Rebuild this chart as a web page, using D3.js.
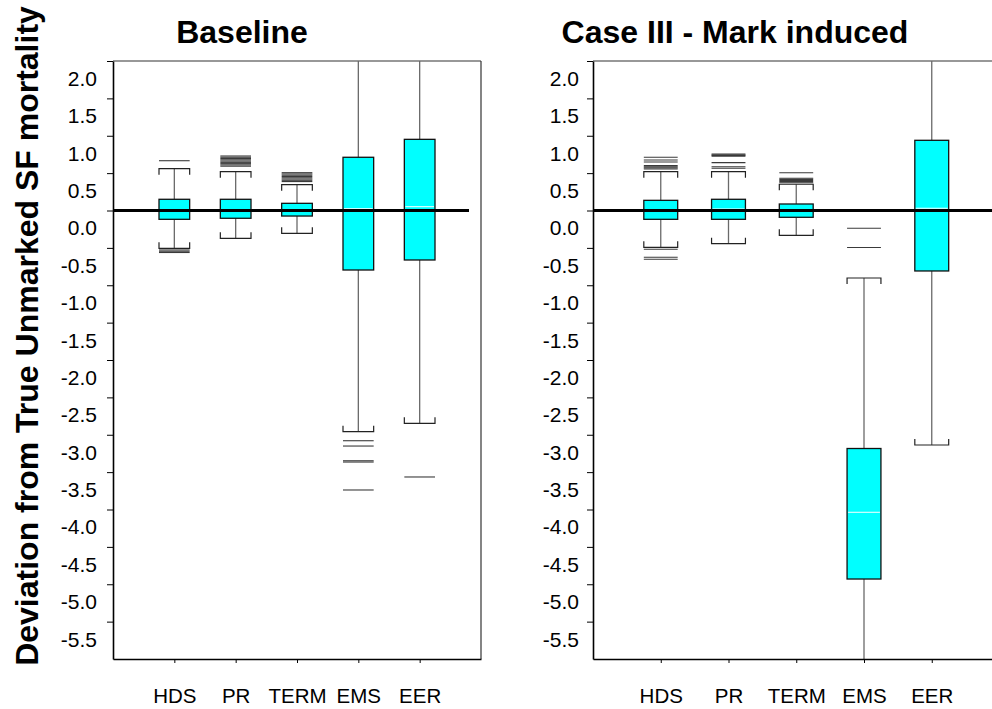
<!DOCTYPE html>
<html>
<head>
<meta charset="utf-8">
<script src="https://cdn.jsdelivr.net/npm/d3@7"></script>
<style>
  html, body { margin: 0; padding: 0; background: #fff; }
  svg { display: block; font-family: "Liberation Sans", Arial, sans-serif; }
</style>
</head>
<body>
<svg id="chart" width="992" height="709"></svg>
<script>
// ---------------- DATA ----------------
const categories = ["HDS", "PR", "TERM", "EMS", "EER"];
const yTickValues = [2.0, 1.5, 1.0, 0.5, 0.0, -0.5, -1.0, -1.5, -2.0, -2.5, -3.0, -3.5, -4.0, -4.5, -5.0, -5.5];
const yTickLabels = ["2.0", "1.5", "1.0", "0.5", "0.0", "-0.5", "-1.0", "-1.5", "-2.0", "-2.5", "-3.0", "-3.5", "-4.0", "-4.5", "-5.0", "-5.5"];
const referenceValue = 0;

// Panel 1: Baseline
const baseQ1 = [-0.118, -0.104, -0.074, -0.796, -0.662];
const baseMedian = [0.01, 0.01, 0.005, 0.024, 0.051];
const baseQ3 = [0.150, 0.150, 0.096, 0.712, 0.952];
const baseLowWhisker = [-0.506, -0.372, -0.305, -2.959, -2.847];
const baseHighWhisker = [0.559, 0.519, 0.345, 2.6, 2.6];
const baseOutliers = [
  [0.666, -0.528, -0.545, -0.562],
  [0.729, 0.712, 0.695, 0.678, 0.661, 0.644, 0.627, 0.610, 0.593],
  [0.506, 0.489, 0.472, 0.455, 0.438, 0.421, 0.404, 0.387],
  [-3.080, -3.151, -3.348, -3.365, -3.739],
  [-3.565]
];

// Panel 2: Case III - Mark induced
const markQ1 = [-0.118, -0.118, -0.091, -4.930, -0.809];
const markMedian = [0.01, 0.02, 0.005, -4.037, 0.030];
const markQ3 = [0.136, 0.150, 0.087, -3.184, 0.939];
const markLowWhisker = [-0.492, -0.444, -0.332, -6.5, -3.137];
const markHighWhisker = [0.519, 0.519, 0.351, -0.903, 2.6];
const markOutliers = [
  [0.712, 0.676, 0.649, 0.600, 0.585, 0.570, 0.555, -0.519, -0.626, -0.653],
  [0.756, 0.746, 0.736, 0.726, 0.640, 0.586, 0.565],
  [0.506, 0.431, 0.416, 0.401, 0.386, 0.371],
  [-0.238, -0.495],
  []
];

const panels = [
  { title: "Baseline", q1: baseQ1, med: baseMedian, q3: baseQ3, lo: baseLowWhisker, hi: baseHighWhisker, out: baseOutliers,
    x0: 113, x1: 481, titleX: 242, refEnd: 469, tickPad: 10 },
  { title: "Case III - Mark induced", q1: markQ1, med: markMedian, q3: markQ3, lo: markLowWhisker, hi: markHighWhisker, out: markOutliers,
    x0: 593, x1: 999.5, titleX: 735, refEnd: 1000, tickPad: 8 }
];

// ---------------- LAYOUT ----------------
const svg = d3.select("#chart");
const plotTop = 61, plotBottom = 659;
const y = d3.scaleLinear().domain([-6, 2]).range([plotBottom, plotTop]);
const halfStep = (y(0) - y(0.5)) / 2;

const defs = svg.append("defs");

panels.forEach((p, pi) => {
  const x = d3.scalePoint().domain(categories).range([p.x0, p.x1]).padding(1);
  const bw = x.step() * 0.5;
  const g = svg.append("g");

  defs.append("clipPath").attr("id", "clip" + pi)
    .append("rect").attr("x", p.x0).attr("y", plotTop).attr("width", p.x1 - p.x0).attr("height", plotBottom - plotTop);

  g.append("line").attr("x1", p.x0).attr("x2", p.x1).attr("y1", plotTop).attr("y2", plotTop)
    .attr("stroke", "#333").attr("stroke-width", 1.2);
  g.append("line").attr("x1", p.x1).attr("x2", p.x1).attr("y1", plotTop).attr("y2", plotBottom)
    .attr("stroke", "#333").attr("stroke-width", 1.2);

  const plot = g.append("g").attr("clip-path", "url(#clip" + pi + ")");

  categories.forEach((c, i) => {
    const cx = x(c);
    const xl = cx - bw / 2, xr = cx + bw / 2;
    plot.append("line").attr("x1", cx).attr("x2", cx).attr("y1", y(p.q3[i])).attr("y2", y(p.hi[i]))
      .attr("stroke", "#6a6a6a").attr("stroke-width", 1.3);
    plot.append("line").attr("x1", cx).attr("x2", cx).attr("y1", y(p.q1[i])).attr("y2", y(p.lo[i]))
      .attr("stroke", "#6a6a6a").attr("stroke-width", 1.3);
    const hook = 6;
    const yh = y(p.hi[i]), yl = y(p.lo[i]);
    plot.append("path")
      .attr("d", `M${xl},${yh + hook}L${xl},${yh}L${xr},${yh}L${xr},${yh + hook}`)
      .attr("fill", "none").attr("stroke", "#222").attr("stroke-width", 1.2);
    plot.append("path")
      .attr("d", `M${xl},${yl - hook}L${xl},${yl}L${xr},${yl}L${xr},${yl - hook}`)
      .attr("fill", "none").attr("stroke", "#222").attr("stroke-width", 1.2);
    plot.selectAll(null).data(p.out[i]).enter().append("line")
      .attr("x1", xl).attr("x2", xr).attr("y1", d => y(d)).attr("y2", d => y(d))
      .attr("stroke", "#3a3a3a").attr("stroke-width", 1.1);
    plot.append("rect").attr("x", xl).attr("y", y(p.q3[i])).attr("width", bw)
      .attr("height", y(p.q1[i]) - y(p.q3[i]))
      .attr("fill", "#00ffff").attr("stroke", "#111").attr("stroke-width", 1.3);
    plot.append("line").attr("x1", xl + 1).attr("x2", xr - 1).attr("y1", y(p.med[i])).attr("y2", y(p.med[i]))
      .attr("stroke", "#fff").attr("stroke-width", 1);
  });

  g.append("line").attr("x1", p.x0).attr("x2", p.refEnd).attr("y1", y(referenceValue)).attr("y2", y(referenceValue))
    .attr("stroke", "#000").attr("stroke-width", 2.8);

  const yAxis = d3.axisLeft(y).tickValues(yTickValues)
    .tickFormat((d, i) => yTickLabels[i]).tickSize(6).tickSizeOuter(0).tickPadding(p.tickPad);
  const ya = g.append("g").attr("transform", `translate(${p.x0},0)`).call(yAxis);
  ya.select(".domain").attr("stroke", "#000").attr("stroke-width", 1.6);
  ya.selectAll(".tick line").attr("stroke", "#000").attr("stroke-width", 1);
  ya.selectAll(".tick text").attr("fill", "#000").attr("font-size", 21)
    .attr("font-family", "Liberation Sans, Arial, sans-serif")
    .attr("y", halfStep - 1);

  const xAxis = d3.axisBottom(x).tickSize(4).tickSizeOuter(0).tickPadding(25);
  const xa = g.append("g").attr("transform", `translate(0,${plotBottom})`).call(xAxis);
  xa.select(".domain").attr("stroke", "#000").attr("stroke-width", 1.4);
  xa.selectAll(".tick line").attr("stroke", "#000");
  xa.selectAll(".tick text").attr("fill", "#000").attr("font-size", 20.5)
    .attr("font-family", "Liberation Sans, Arial, sans-serif");

  g.append("text").attr("x", p.titleX).attr("y", 43).attr("text-anchor", "middle")
    .attr("font-size", 32).attr("font-weight", "bold").text(p.title);
});

svg.append("text")
  .attr("transform", "translate(38,336) rotate(-90)")
  .attr("text-anchor", "middle")
  .attr("font-size", 32).attr("font-weight", "bold")
  .text("Deviation from True Unmarked SF mortality");
</script>
</body>
</html>
